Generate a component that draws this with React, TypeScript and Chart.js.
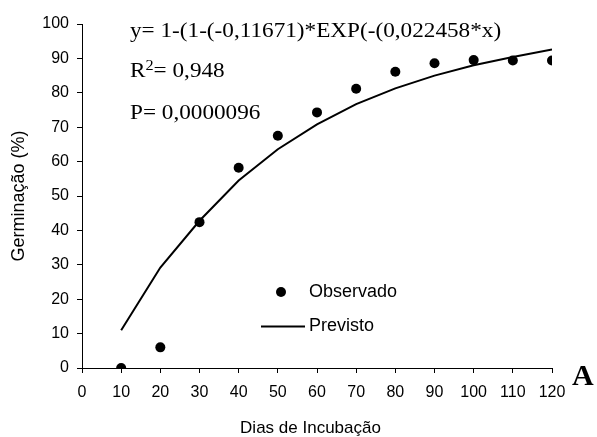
import React, { useEffect, useRef } from "react";
import { Chart, registerables } from "chart.js";

Chart.register(...registerables);

const days = [10, 20, 30, 40, 50, 60, 70, 80, 90, 100, 110, 120];
const observed = [0, 6, 42.4, 58.2, 67.5, 74.3, 81.2, 86.1, 88.6, 89.5, 89.4, 89.4];
const predicted = [11, 29.2, 42.8, 54.5, 63.6, 70.8, 76.7, 81.3, 85.0, 88.0, 90.4, 92.6];
const xTicks = [0, 10, 20, 30, 40, 50, 60, 70, 80, 90, 100, 110, 120];
const yTicks = [0, 10, 20, 30, 40, 50, 60, 70, 80, 90, 100];

const equationText = "y= 1-(1-(-0,11671)*EXP(-(0,022458*x)";
const r2Value = "= 0,948";
const pText = "P= 0,0000096";
const legendObs = "Observado";
const legendPred = "Previsto";
const xTitle = "Dias de Incubação";
const yTitle = "Germinação (%)";
const panelLabel = "A";

const SANS = '"Liberation Sans", Arial, sans-serif';
const SERIF = '"Liberation Serif", "Times New Roman", serif';

const annotations = {
  id: "annotations",
  afterDraw(chart: any) {
    const ctx = chart.ctx as CanvasRenderingContext2D;
    ctx.save();
    ctx.fillStyle = "#000";
    ctx.strokeStyle = "#000";

    // Equation block (serif, slightly wide)
    const sx = 1.16;
    const drawWide = (parts: { t: string; font: string; dy?: number }[], x: number, y: number) => {
      ctx.save();
      ctx.translate(x, y);
      ctx.scale(sx, 1);
      ctx.textAlign = "left";
      ctx.textBaseline = "alphabetic";
      let cx = 0;
      for (const p of parts) {
        ctx.font = p.font;
        ctx.fillText(p.t, cx, p.dy || 0);
        cx += ctx.measureText(p.t).width;
      }
      ctx.restore();
    };
    drawWide([{ t: equationText, font: `20px ${SERIF}` }], 130, 36.5);
    drawWide(
      [
        { t: "R", font: `20px ${SERIF}` },
        { t: "2", font: `14px ${SERIF}`, dy: -7 },
        { t: r2Value, font: `20px ${SERIF}` },
      ],
      130,
      76.5
    );
    drawWide([{ t: pText, font: `20px ${SERIF}` }], 130, 118.5);

    // Legend
    ctx.beginPath();
    ctx.arc(281, 292, 5, 0, Math.PI * 2);
    ctx.fill();
    ctx.lineWidth = 2;
    ctx.beginPath();
    ctx.moveTo(261, 326.5);
    ctx.lineTo(305, 326.5);
    ctx.stroke();
    ctx.font = `18px ${SANS}`;
    ctx.textAlign = "left";
    ctx.textBaseline = "middle";
    ctx.fillText(legendObs, 309, 292);
    ctx.fillText(legendPred, 309, 326);

    // Panel label
    ctx.font = `bold 30px ${SERIF}`;
    ctx.textBaseline = "alphabetic";
    ctx.fillText(panelLabel, 572, 385);

    // Axis titles
    ctx.font = `17px ${SANS}`;
    ctx.textAlign = "center";
    ctx.fillText(xTitle, 310.5, 433);
    ctx.save();
    ctx.translate(19, 196);
    ctx.rotate(-Math.PI / 2);
    ctx.font = `18px ${SANS}`;
    ctx.textBaseline = "middle";
    ctx.fillText(yTitle, 0, 0);
    ctx.restore();

    ctx.restore();
  },
};

export default function App() {
  const ref = useRef<HTMLCanvasElement | null>(null);

  useEffect(() => {
    if (!ref.current) return;
    Chart.defaults.font.family = SANS;
    const chart = new Chart(ref.current, {
      type: "scatter",
      data: {
        datasets: [
          {
            label: legendObs,
            data: days.map((d, i) => ({ x: d, y: observed[i] })),
            showLine: false,
            pointRadius: 5,
            pointBackgroundColor: "#000",
            pointBorderColor: "#000",
            pointBorderWidth: 0,
          },
          {
            label: legendPred,
            data: days.map((d, i) => ({ x: d, y: predicted[i] })),
            showLine: true,
            pointRadius: 0,
            borderColor: "#000",
            borderWidth: 2,
            tension: 0,
          },
        ],
      },
      options: {
        responsive: false,
        animation: false,
        devicePixelRatio: 1,
        layout: { padding: { top: 24, right: 45, left: 0, bottom: 0 } },
        plugins: {
          legend: { display: false },
          tooltip: { enabled: false },
        },
        scales: {
          x: {
            type: "linear",
            min: 0,
            max: 120,
            afterFit: (s: any) => {
              s.height = 69;
            },
            afterBuildTicks: (s: any) => {
              s.ticks = xTicks.map((v) => ({ value: v }));
            },
            ticks: {
              color: "#000",
              font: { size: 16, family: SANS },
              padding: 10,
              maxRotation: 0,
              autoSkip: false,
            },
            grid: {
              drawOnChartArea: false,
              drawTicks: true,
              tickLength: 5,
              color: "#000",
            },
            border: { display: true, color: "#000", width: 1 },
          },
          y: {
            type: "linear",
            min: 0,
            max: 100,
            afterFit: (s: any) => {
              s.width = 82;
            },
            afterBuildTicks: (s: any) => {
              s.ticks = yTicks.map((v) => ({ value: v }));
            },
            ticks: {
              color: "#000",
              font: { size: 16, family: SANS },
              padding: 8,
              autoSkip: false,
            },
            grid: {
              drawOnChartArea: false,
              drawTicks: true,
              tickLength: 5,
              color: "#000",
            },
            border: { display: true, color: "#000", width: 1 },
          },
        },
      },
      plugins: [annotations],
    });
    return () => chart.destroy();
  }, []);

  return (
    <div style={{ position: "absolute", left: 0, top: 0, width: 597, height: 437, background: "#fff" }}>
      <canvas ref={ref} width={597} height={437} style={{ display: "block" }} />
    </div>
  );
}
